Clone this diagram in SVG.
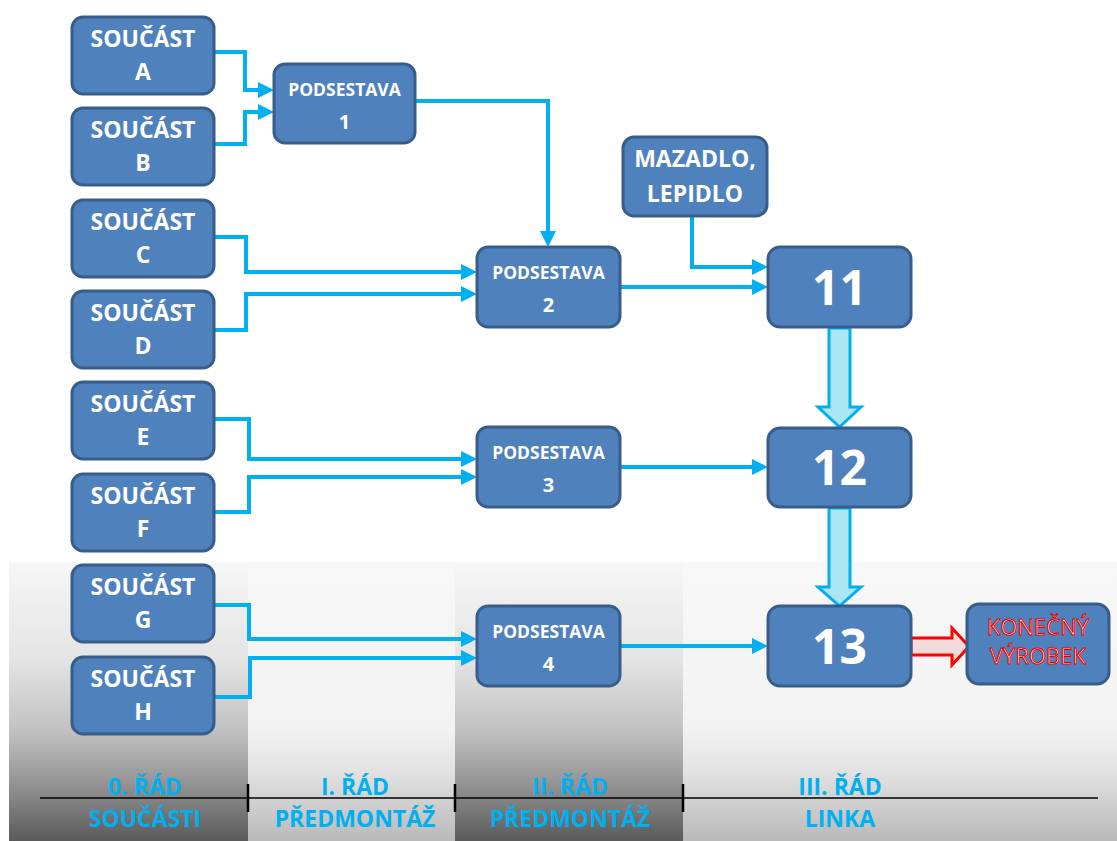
<svg xmlns="http://www.w3.org/2000/svg" width="1117" height="841" viewBox="0 0 1117 841">
<defs>
<linearGradient id="gDark" x1="0" y1="0" x2="0" y2="1">
<stop offset="0" stop-color="#f6f6f6"/>
<stop offset="0.35" stop-color="#e4e4e4"/>
<stop offset="0.6" stop-color="#c2c2c2"/>
<stop offset="0.8" stop-color="#929292"/>
<stop offset="1" stop-color="#5a5a5a"/>
</linearGradient>
<linearGradient id="gLight" x1="0" y1="0" x2="0" y2="1">
<stop offset="0" stop-color="#f8f8f8"/>
<stop offset="0.6" stop-color="#f2f2f2"/>
<stop offset="0.75" stop-color="#e2e2e2"/>
<stop offset="1" stop-color="#b9b9b9"/>
</linearGradient>
<marker id="ah" markerUnits="userSpaceOnUse" markerWidth="16" markerHeight="16" refX="10" refY="8" orient="auto">
<path d="M0,0 L16,8 L0,16 z" fill="#00b0f0"/>
</marker>
</defs>
<style>
.box{fill:#4f81bd;stroke:#385d8a;stroke-width:3}
.t{font-family:"Open Sans","Liberation Sans",sans-serif;font-weight:700;fill:#ffffff;text-anchor:middle}
.s{font-size:23px}
.p{font-size:17.5px}
.n{font-size:20px}
.big{font-size:48px}
.lab{font-family:"Open Sans","Liberation Sans",sans-serif;font-weight:700;fill:#00b0f0;text-anchor:middle;font-size:23px}
.fin{font-family:"Open Sans","Liberation Sans",sans-serif;font-weight:400;font-size:22px;fill:#ffffff;stroke:#e00000;stroke-width:1;text-anchor:middle}
.c{fill:none;stroke:#00b0f0;stroke-width:4;marker-end:url(#ah)}
.blk{fill:#a9e6f2;stroke:#00b0f0;stroke-width:3}
</style>
<rect x="0" y="0" width="1117" height="841" fill="#ffffff"/>
<g id="background">
<rect x="9" y="562" width="239" height="279" fill="url(#gDark)"/>
<rect x="248" y="562" width="207" height="279" fill="url(#gLight)"/>
<rect x="455" y="562" width="228" height="279" fill="url(#gDark)"/>
<rect x="683" y="562" width="434" height="279" fill="url(#gLight)"/>
</g>
<g id="connectors">
<path class="c" d="M214,52 H245 V90 H268"/>
<path class="c" d="M214,144 H245 V112 H268"/>
<path class="c" d="M415,101 H548 V241"/>
<path class="c" d="M214,237 H246 V272 H471"/>
<path class="c" d="M214,330 H246 V294 H471"/>
<path class="c" d="M620,287 H762"/>
<path class="c" d="M692,216 V267 H762"/>
<path class="c" d="M214,419 H249 V459 H471"/>
<path class="c" d="M214,512 H249 V477 H471"/>
<path class="c" d="M620,467 H762"/>
<path class="c" d="M214,605 H249 V639 H471"/>
<path class="c" d="M214,697 H250 V658 H471"/>
<path class="c" d="M620,646 H762"/>
<polygon class="blk" points="829,328 850,328 850,407 861,407 839.5,427 818,407 829,407"/>
<polygon class="blk" points="829,508 850,508 850,587 861,587 839.5,606 818,587 829,587"/>
<polygon points="911,638 952,638 952,628 969,646.5 952,665 952,655 911,655" fill="#f2dcdb" stroke="#ff0000" stroke-width="3"/>
</g>
<g id="n-A"><rect class="box" x="72" y="17" width="142" height="77" rx="11"/><text class="t s" x="143" y="47">SOUČÁST</text><text class="t s" x="143" y="80">A</text></g>
<g id="n-B"><rect class="box" x="72" y="108" width="142" height="77" rx="11"/><text class="t s" x="143" y="138">SOUČÁST</text><text class="t s" x="143" y="171">B</text></g>
<g id="n-C"><rect class="box" x="72" y="200" width="142" height="77" rx="11"/><text class="t s" x="143" y="230">SOUČÁST</text><text class="t s" x="143" y="263">C</text></g>
<g id="n-D"><rect class="box" x="72" y="291" width="142" height="77" rx="11"/><text class="t s" x="143" y="321">SOUČÁST</text><text class="t s" x="143" y="354">D</text></g>
<g id="n-E"><rect class="box" x="72" y="382" width="142" height="77" rx="11"/><text class="t s" x="143" y="412">SOUČÁST</text><text class="t s" x="143" y="445">E</text></g>
<g id="n-F"><rect class="box" x="72" y="474" width="142" height="77" rx="11"/><text class="t s" x="143" y="504">SOUČÁST</text><text class="t s" x="143" y="537">F</text></g>
<g id="n-G"><rect class="box" x="72" y="565" width="142" height="77" rx="11"/><text class="t s" x="143" y="595">SOUČÁST</text><text class="t s" x="143" y="628">G</text></g>
<g id="n-H"><rect class="box" x="72" y="657" width="142" height="77" rx="11"/><text class="t s" x="143" y="687">SOUČÁST</text><text class="t s" x="143" y="720">H</text></g>
<g id="n-P1"><rect class="box" x="274" y="64" width="141" height="79" rx="11"/><text class="t p" x="344.5" y="96">PODSESTAVA</text><text class="t n" x="344.5" y="129">1</text></g>
<g id="n-P2"><rect class="box" x="477" y="247" width="143" height="80" rx="11"/><text class="t p" x="548.5" y="279">PODSESTAVA</text><text class="t n" x="548.5" y="312">2</text></g>
<g id="n-P3"><rect class="box" x="477" y="427" width="143" height="80" rx="11"/><text class="t p" x="548.5" y="459">PODSESTAVA</text><text class="t n" x="548.5" y="492">3</text></g>
<g id="n-P4"><rect class="box" x="477" y="606" width="143" height="80" rx="11"/><text class="t p" x="548.5" y="638">PODSESTAVA</text><text class="t n" x="548.5" y="671">4</text></g>
<g id="n-MAZ"><rect class="box" x="623" y="137" width="144" height="79" rx="11"/><text class="t s" x="695" y="167">MAZADLO,</text><text class="t s" x="695" y="202">LEPIDLO</text></g>
<g id="n-11"><rect class="box" x="768" y="247" width="143" height="80" rx="12"/><text class="t big" x="839.5" y="305">11</text></g>
<g id="n-12"><rect class="box" x="768" y="428" width="143" height="79" rx="12"/><text class="t big" x="839.5" y="485">12</text></g>
<g id="n-13"><rect class="box" x="768" y="606" width="143" height="80" rx="12"/><text class="t big" x="839.5" y="664">13</text></g>
<g id="n-KV"><rect class="box" x="967" y="604" width="142" height="80" rx="12"/><text class="fin" x="1038" y="635">KONEČNÝ</text><text class="fin" x="1038" y="664">VÝROBEK</text></g>
<g id="axis">
<path d="M40,798 H1098" stroke="#000" stroke-width="1.5" fill="none"/>
<path d="M248,784 V812 M455,784 V812 M683,784 V812" stroke="#000" stroke-width="2.5" fill="none"/>
<text class="lab" x="145" y="795">0. ŘÁD</text>
<text class="lab" x="145" y="827">SOUČÁSTI</text>
<text class="lab" x="355" y="795">I. ŘÁD</text>
<text class="lab" x="355" y="827">PŘEDMONTÁŽ</text>
<text class="lab" x="570" y="795">II. ŘÁD</text>
<text class="lab" x="570" y="827">PŘEDMONTÁŽ</text>
<text class="lab" x="840" y="795">III. ŘÁD</text>
<text class="lab" x="840" y="827">LINKA</text>
</g>
</svg>
